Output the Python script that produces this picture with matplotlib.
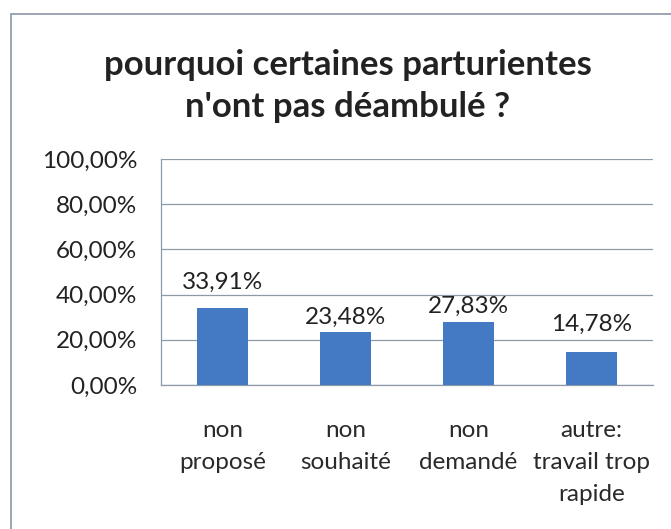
import matplotlib
matplotlib.use("Agg")
import matplotlib.pyplot as plt
from matplotlib.patches import Rectangle

plt.rcParams['font.family'] = ['Lato', 'DejaVu Sans']

# données
categories = ["non\nproposé", "non\nsouhaité", "non\ndemandé", "autre:\ntravail trop\nrapide"]
pourcentages = [33.91, 23.48, 27.83, 14.78]
graduations = [0, 20, 40, 60, 80, 100]

# décalage vertical des étiquettes au-dessus des barres (pixels)
decalages_etiquettes = [26, 15, 16, 27]

W, H = 671, 529
fig = plt.figure(figsize=(W / 100, H / 100), dpi=100)
fig.patch.set_facecolor("white")

# cadre du graphique
fig.patches.append(Rectangle((11 / W, -0.01), 1.0, 1 - 14 / H + 0.01,
                             transform=fig.transFigure, fill=False,
                             edgecolor="#8a96a4", linewidth=1.2))

ax = fig.add_axes([161 / W, 1 - 385 / H, (653 - 161) / W, (385 - 159) / H])
x = range(len(categories))
ax.bar(x, pourcentages, width=0.41, color="#4479C4", zorder=3)

for xi, v, d in zip(x, pourcentages, decalages_etiquettes):
    ax.annotate(f"{v:.2f}%".replace(".", ","), (xi, v), xytext=(0, d * 0.72),
                textcoords="offset points", ha="center", va="center",
                fontsize=17.5, color="#222222")

ax.set_xlim(-0.5, len(categories) - 0.5)
ax.set_ylim(0, 100)
ax.set_yticks(graduations)
ax.set_yticklabels([f"{g:.2f}%".replace(".", ",") for g in graduations],
                   fontsize=17.5, color="#222222")
ax.set_xticks(list(x))
ax.set_xticklabels(categories, fontsize=17.5, color="#2a2a2a", linespacing=1.65, va="top")
ax.tick_params(axis="y", length=0, pad=17)
ax.tick_params(axis="x", length=0, pad=25)
ax.grid(axis="y", color="#8c9aa8", linewidth=0.9, zorder=0)
for s in ["top", "right"]:
    ax.spines[s].set_visible(False)
ax.spines["left"].set_color("#8c9aa8")
ax.spines["bottom"].set_color("#8c9aa8")
ax.spines["left"].set_linewidth(0.9)
ax.spines["bottom"].set_linewidth(0.9)

fig.text(348 / W, 1 - 65 / H, "pourquoi certaines parturientes", ha="center", va="center",
         fontsize=25, fontweight="bold", color="#222222")
fig.text(348 / W, 1 - 107 / H, "n'ont pas déambulé ?", ha="center", va="center",
         fontsize=25, fontweight="bold", color="#222222")

fig.savefig("out.png", dpi=100)
